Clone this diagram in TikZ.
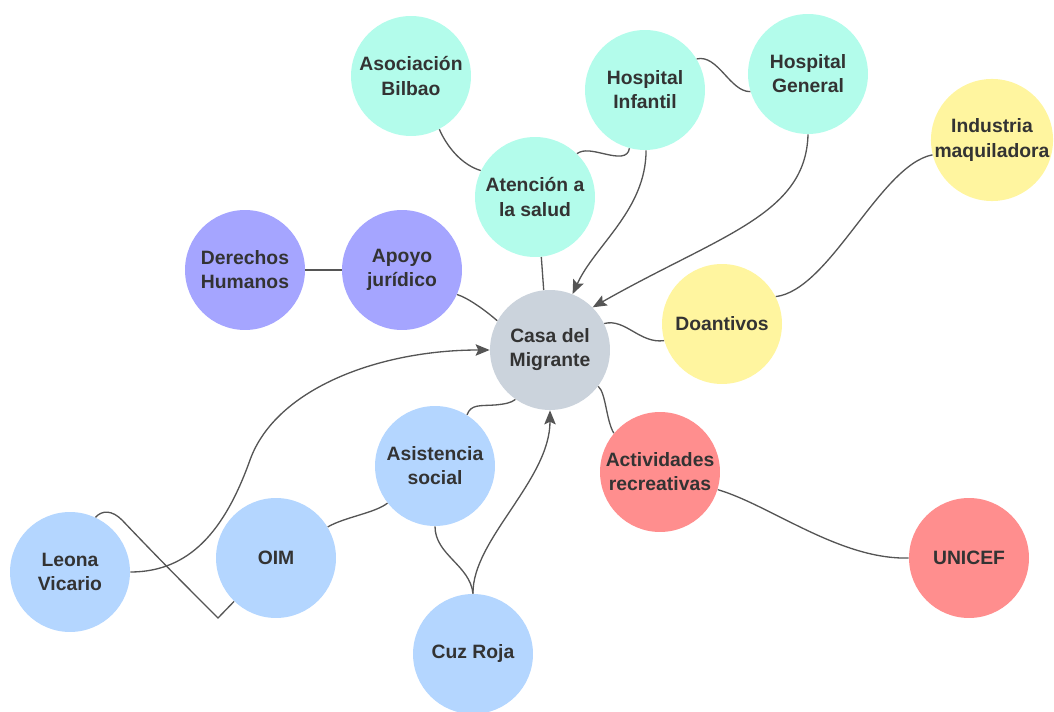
\documentclass[tikz,border=0pt]{standalone}
\usepackage{fontspec}
\setmainfont{Liberation Sans}
\usepackage{xcolor}
\usetikzlibrary{arrows.meta}
\definecolor{mint}{HTML}{B3FCEB}
\definecolor{lilac}{HTML}{A5A5FF}
\definecolor{lemon}{HTML}{FFF59F}
\definecolor{slate}{HTML}{CBD3DC}
\definecolor{sky}{HTML}{B4D6FF}
\definecolor{coral}{HTML}{FF8E8E}
\definecolor{ink}{HTML}{333333}
\definecolor{wire}{HTML}{555555}

\begin{document}
\begin{tikzpicture}[x=0.02cm, y=-0.02cm,
    bubble/.style={circle, minimum size=2.4cm, inner sep=0pt, align=center,
                   text=ink, font=\fontsize{11}{13.7}\selectfont\bfseries},
    link/.style={draw=wire, line width=0.75pt},
    arrow/.style={link, -{Stealth[length=8pt, width=6.5pt, inset=1.5pt]}}
]
    \useasboundingbox (0,0) rectangle (1054,712);

    \node[bubble, fill=mint]  (bilbao)    at (411,76)  {Asociación\\Bilbao};
    \node[bubble, fill=mint]  (infantil)  at (645,90)  {Hospital\\Infantil};
    \node[bubble, fill=mint]  (general)   at (808,74)  {Hospital\\General};
    \node[bubble, fill=lemon] (industria) at (992,140) {Industria\\maquiladora};
    \node[bubble, fill=mint]  (salud)     at (535,197) {Atención a\\la salud};
    \node[bubble, fill=lilac] (derechos)  at (245,270) {Derechos\\Humanos};
    \node[bubble, fill=lilac] (juridico)  at (402,270) {Apoyo\\jurídico};
    \node[bubble, fill=slate] (casa)      at (550,350) {Casa del\\Migrante};
    \node[bubble, fill=lemon] (donativos) at (722,324) {Doantivos};
    \node[bubble, fill=sky]   (asist)     at (435,466) {Asistencia\\social};
    \node[bubble, fill=coral] (recreo)    at (660,472) {Actividades\\recreativas};
    \node[bubble, fill=sky]   (leona)     at (70,572)  {Leona\\Vicario};
    \node[bubble, fill=sky]   (oim)       at (276,558) {OIM};
    \node[bubble, fill=coral] (unicef)    at (969,558) {UNICEF};
    \node[bubble, fill=sky]   (cruz)      at (473,654) {Cuz Roja};

    % salud
    \draw[link] (bilbao.-62) .. controls (447,147) and (462,165) .. (salud.154);
    \draw[link] (infantil.-105) .. controls (628,158) and (618,157) .. (605,154)
                .. controls (592,151) and (584,149) .. (salud.46);
    \draw[link] (infantil.31) .. controls (718,54) and (730,92) .. (general.-163);
    \draw[link] (salud.-84) -- (casa.96);
    \draw[arrow] (infantil.-89) .. controls (646,210) and (595,245) .. (casa.68);
    \draw[arrow] (general.-90) .. controls (806,215) and (720,235) .. (casa.45);

    % donativos
    \draw[link] (industria.-166) .. controls (880,165) and (830,290) .. (donativos.27);
    \draw[link] (casa.26) .. controls (625,318) and (640,344) .. (donativos.-164);

    % juridico
    \draw[link] (derechos.0) -- (juridico.180);
    \draw[link] (juridico.-24) .. controls (468,298) and (485,310) .. (casa.151);

    % social
    \draw[arrow] (leona.0) .. controls (190,572) and (225,530) .. (250,460)
                 .. controls (276,388) and (380,350) .. (casa.180);
    \draw[link] (leona.65) .. controls (102,510) and (112,510) .. (122,520)
                .. controls (160,560) and (190,590) .. (218,618) -- (oim.-134);
    \draw[link] (oim.31) .. controls (345,517) and (375,513) .. (asist.-142);
    \draw[link] (asist.58) .. controls (471,404) and (480,406) .. (495,405)
                .. controls (505,404) and (511,403) .. (casa.-125);
    \draw[link] (asist.-90) .. controls (435,555) and (470,565) .. (cruz.90);
    \draw[arrow] (cruz.90) .. controls (472,540) and (550,480) .. (casa.-90);

    % recreativas
    \draw[link] (casa.-37) .. controls (606,393) and (606,420) .. (recreo.140);
    \draw[link] (recreo.-17) .. controls (770,505) and (840,560) .. (unicef.180);
\end{tikzpicture}
\end{document}
